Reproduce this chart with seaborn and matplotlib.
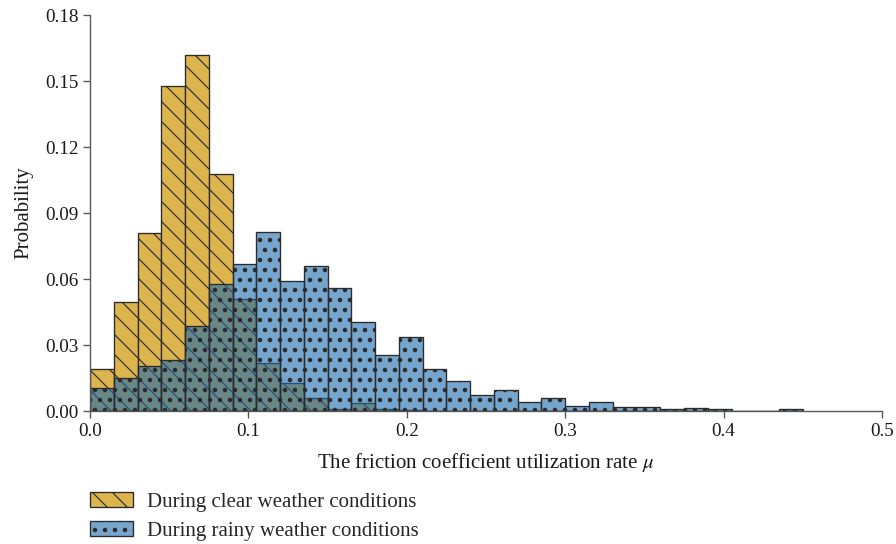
import numpy as np
import pandas as pd
import matplotlib
matplotlib.use("Agg")
import matplotlib.pyplot as plt
import seaborn as sns
from matplotlib.patches import Patch

# ---- data ----
bin_edges = [round(0.015 * i, 3) for i in range(31)]
bin_centers = [round(0.015 * i + 0.0075, 4) for i in range(30)]

clear_prob = [0.0190, 0.0494, 0.0809, 0.1476, 0.1618, 0.1079, 0.0510, 0.0217,
              0.0127, 0.0058, 0.0008, 0.0035, 0.0008, 0.0005, 0.0, 0.0,
              0.0, 0.0, 0.0, 0.0, 0.0, 0.0, 0.0, 0.0, 0.0, 0.0, 0.0, 0.0, 0.0, 0.0]
rainy_prob = [0.0103, 0.0149, 0.0203, 0.0232, 0.0386, 0.0576, 0.0667, 0.0812,
              0.0590, 0.0660, 0.0560, 0.0405, 0.0253, 0.0338, 0.0190, 0.0138,
              0.0071, 0.0097, 0.0040, 0.0059, 0.0024, 0.0040, 0.0018, 0.0018,
              0.0009, 0.0014, 0.0009, 0.0, 0.0, 0.0009]

series_labels = ["During clear weather conditions", "During rainy weather conditions"]
y_ticks = [0.00, 0.03, 0.06, 0.09, 0.12, 0.15, 0.18]
x_ticks = [0.0, 0.1, 0.2, 0.3, 0.4, 0.5]

# ---- style ----
DPI = 120
sns.set_style("ticks")
plt.rcParams["font.family"] = ["Liberation Serif", "DejaVu Serif"]
plt.rcParams["mathtext.fontset"] = "stix"
FS = 12.5
TFS = 11.5
LINE_HW = 0.7
DOT_HW = 1.5

gold = (0.867, 0.710, 0.306, 1.0)
blue_rgb = (27 / 255, 105 / 255, 172 / 255)
blue_a = 0.6
blue = blue_rgb + (blue_a,)
blue_on_white = tuple(c * blue_a + (1 - blue_a) for c in blue_rgb)
edge = "#2b2b2b"


def set_hw(p, hw):
    if hasattr(p, "set_hatch_linewidth"):
        p.set_hatch_linewidth(hw)


def style(p, fc, hatch, hw):
    p.set_alpha(None)
    p.set_facecolor(fc)
    p.set_edgecolor(edge)
    p.set_linewidth(0.8)
    p.set_hatch(hatch)
    set_hw(p, hw)


fig = plt.figure(figsize=(896 / DPI, 544 / DPI), dpi=DPI)
ax = fig.add_axes([90 / 896, 1 - 411 / 544, (882 - 90) / 896, (411 - 15) / 544])

df_clear = pd.DataFrame({"mu": bin_centers, "p": clear_prob})
df_rainy = pd.DataFrame({"mu": bin_centers, "p": rainy_prob})

plt.rcParams["hatch.linewidth"] = LINE_HW
n0 = len(ax.patches)
sns.histplot(data=df_clear, x="mu", weights="p", bins=bin_edges, ax=ax,
             stat="count", element="bars", fill=True)
for p in ax.patches[n0:]:
    style(p, gold, "\\\\", LINE_HW)

plt.rcParams["hatch.linewidth"] = DOT_HW
n1 = len(ax.patches)
sns.histplot(data=df_rainy, x="mu", weights="p", bins=bin_edges, ax=ax,
             stat="count", element="bars", fill=True)
for p in ax.patches[n1:]:
    style(p, blue, "..", DOT_HW)

ax.set_xlim(0, 0.5)
ax.set_ylim(0, 0.18)
ax.set_xticks(x_ticks)
ax.set_xticklabels([f"{v:.1f}" for v in x_ticks])
ax.set_yticks(y_ticks)
ax.set_yticklabels([f"{v:.2f}" for v in y_ticks])
ax.tick_params(axis="both", labelsize=TFS, length=4, width=0.8, color="#555555",
               direction="out", pad=3, labelcolor="#1a1a1a")
for s in ["top", "right"]:
    ax.spines[s].set_visible(False)
for s in ["left", "bottom"]:
    ax.spines[s].set_color("#555555")
    ax.spines[s].set_linewidth(0.8)

ax.set_ylabel("Probability", fontsize=FS, color="#1a1a1a", labelpad=7)
ax.set_xlabel("The friction coefficient utilization rate $\\mathit{\\mu}$",
              fontsize=FS, color="#1a1a1a", labelpad=7)

h1 = Patch(facecolor=gold, edgecolor=edge, hatch="\\\\", linewidth=0.8)
h2 = Patch(facecolor=blue_on_white, edgecolor=edge, hatch="..", linewidth=0.8)

leg = fig.legend([h1, h2], series_labels, loc="upper left",
                 bbox_to_anchor=(90 / 896, 1 - 492 / 544), frameon=False,
                 fontsize=FS, borderpad=0, borderaxespad=0, handlelength=2.07,
                 handleheight=0.72, handletextpad=0.67, labelspacing=0.45)
lp = leg.get_patches()
if len(lp) == 2:
    set_hw(lp[0], LINE_HW)
    set_hw(lp[1], DOT_HW)
plt.rcParams["hatch.linewidth"] = LINE_HW

fig.savefig("out.png", dpi=DPI)
